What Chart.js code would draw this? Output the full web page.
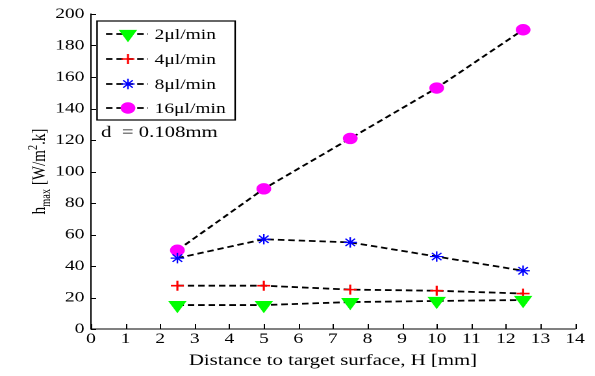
<!DOCTYPE html>
<html>
<head>
<meta charset="utf-8">
<script src="https://cdn.jsdelivr.net/npm/chart.js@4.4.1/dist/chart.umd.min.js"></script>
<style>
  html, body { margin: 0; padding: 0; background: #fff; overflow: hidden; }
  /* the original figure is stretched sideways, so the chart is drawn narrow and widened */
  #wrap { width: 458px; height: 376px; transform: scaleX(1.2991); transform-origin: 0 0; }
</style>
</head>
<body>
<div id="wrap"><canvas id="chart" width="458" height="376"></canvas></div>
<script>
// ---------- data ----------
const distances = [2.5, 5, 7.5, 10, 12.5];          // H [mm]
const rate2  = [15.2, 15.2, 17.1, 17.8, 18.4];     // 2 µl/min
const rate4  = [27.5, 27.5, 25.0, 24.3, 22.5];     // 4 µl/min
const rate8  = [45, 57, 55, 46, 37];               // 8 µl/min
const rate16 = [50, 89, 121, 153, 190];            // 16 µl/min
const seriesLabels = ["2\u03bcl/min", "4\u03bcl/min", "8\u03bcl/min", "16\u03bcl/min"];
const xTicks = [0, 14, 1];     // min, max, step
const yTicks = [0, 200, 20];

const SERIF = "'Liberation Serif', 'Times New Roman', serif";

function pts(vals) {
  return distances.map((h, i) => ({ x: h, y: vals[i] }));
}

function series(label, vals, style) {
  return Object.assign({
    label: label,
    data: pts(vals),
    borderColor: "#000",
    borderWidth: 1.8,
    borderDash: [5, 3],
    showLine: true,
    fill: false,
    pointBorderWidth: 1
  }, style);
}

const datasets = [
  series(seriesLabels[0], rate2, { pointStyle: "triangle", pointRotation: 180, pointRadius: 7.2,
    pointBackgroundColor: "#00ff00", pointBorderColor: "#00ff00" }),
  series(seriesLabels[1], rate4, { pointStyle: "cross", pointRadius: 5, pointBorderWidth: 1.6,
    pointBackgroundColor: "#ff0000", pointBorderColor: "#ff0000" }),
  series(seriesLabels[2], rate8, { pointStyle: "star", pointRadius: 5.2, pointBorderWidth: 1.2,
    pointBackgroundColor: "#0000ff", pointBorderColor: "#0000ff" }),
  series(seriesLabels[3], rate16, { pointStyle: "circle", pointRadius: 5.2,
    pointBackgroundColor: "#ff00ff", pointBorderColor: "#ff00ff" })
];

// ---------- inward ticks, legend box, titles ----------
const decorations = {
  id: "decorations",
  afterDraw(chart) {
    const ctx = chart.ctx;
    const xs = chart.scales.x, ys = chart.scales.y;
    const area = chart.chartArea;

    ctx.save();
    ctx.strokeStyle = "#000";
    ctx.lineWidth = 1;
    ctx.beginPath();
    xs.ticks.forEach(t => {
      const px = Math.round(xs.getPixelForValue(t.value)) + 0.5;
      ctx.moveTo(px, area.bottom);
      ctx.lineTo(px, area.bottom - 5);
    });
    ys.ticks.forEach(t => {
      const py = Math.round(ys.getPixelForValue(t.value)) + 0.5;
      ctx.moveTo(area.left, py);
      ctx.lineTo(area.left + 4, py);
    });
    ctx.stroke();

    // legend
    const box = { l: 74.7, t: 21, r: 181, b: 120 };
    const rows = [34, 59, 84, 108];
    ctx.fillStyle = "#fff";
    ctx.fillRect(box.l, box.t, box.r - box.l, box.b - box.t);
    ctx.lineWidth = 1.2;
    ctx.strokeRect(box.l, box.t, box.r - box.l, box.b - box.t);
    chart.data.datasets.forEach((ds, i) => {
      const y = rows[i];
      ctx.save();
      ctx.setLineDash(ds.borderDash);
      ctx.lineWidth = ds.borderWidth;
      ctx.strokeStyle = ds.borderColor;
      ctx.beginPath();
      ctx.moveTo(81.6, y);
      ctx.lineTo(114, y);
      ctx.stroke();
      ctx.setLineDash([]);
      ctx.fillStyle = ds.pointBackgroundColor;
      ctx.strokeStyle = ds.pointBorderColor;
      ctx.lineWidth = ds.pointBorderWidth;
      Chart.helpers.drawPoint(ctx, {
        pointStyle: ds.pointStyle,
        rotation: ds.pointRotation || 0,
        radius: ds.pointRadius,
        borderWidth: ds.pointBorderWidth
      }, 98.5, y);
      ctx.restore();
      ctx.fillStyle = "#000";
      ctx.font = "15px " + SERIF;
      ctx.textBaseline = "middle";
      ctx.textAlign = "left";
      ctx.fillText(ds.label, 119, y + 1);
    });

    // note
    ctx.fillStyle = "#000";
    ctx.font = "16px " + SERIF;
    ctx.textBaseline = "alphabetic";
    ctx.fillText("d  = 0.108mm", 77.7, 137);

    // x title
    ctx.textAlign = "center";
    ctx.font = "16px " + SERIF;
    ctx.fillText("Distance to target surface, H [mm]", (area.left + area.right) / 2, 365);

    // y title with subscript and superscript
    ctx.translate(34.6, (area.top + area.bottom) / 2);
    ctx.rotate(-Math.PI / 2);
    const big = "15px " + SERIF, small = "10.5px " + SERIF;
    const parts = [["h", big, 0], ["max", small, 4], [" [W/m", big, 0], ["2", small, -6], [".k]", big, 0]];
    let total = 0;
    parts.forEach(p => { ctx.font = p[1]; total += ctx.measureText(p[0]).width; });
    let cx = -total / 2;
    ctx.textAlign = "left";
    parts.forEach(p => {
      ctx.font = p[1];
      ctx.fillText(p[0], cx, p[2]);
      cx += ctx.measureText(p[0]).width;
    });
    ctx.restore();
  }
};

new Chart(document.getElementById("chart"), {
  type: "scatter",
  data: { datasets: datasets },
  options: {
    responsive: false,
    animation: false,
    devicePixelRatio: 2,
    layout: { padding: { top: 14, right: 15.4, left: 0, bottom: 0 } },
    plugins: { legend: { display: false }, tooltip: { enabled: false } },
    scales: {
      x: {
        type: "linear",
        min: xTicks[0], max: xTicks[1],
        ticks: { stepSize: xTicks[2], color: "#000", padding: 1, font: { family: SERIF, size: 15 } },
        grid: { display: false, drawTicks: false },
        border: { display: true, color: "#000", width: 1 },
        afterFit(s) { s.height = 47; }
      },
      y: {
        min: yTicks[0], max: yTicks[1],
        ticks: { stepSize: yTicks[2], color: "#000", padding: 5, font: { family: SERIF, size: 15 } },
        grid: { display: false, drawTicks: false },
        border: { display: true, color: "#000", width: 1 },
        afterFit(s) { s.width = 70; }
      }
    }
  },
  plugins: [decorations]
});
</script>
</body>
</html>
